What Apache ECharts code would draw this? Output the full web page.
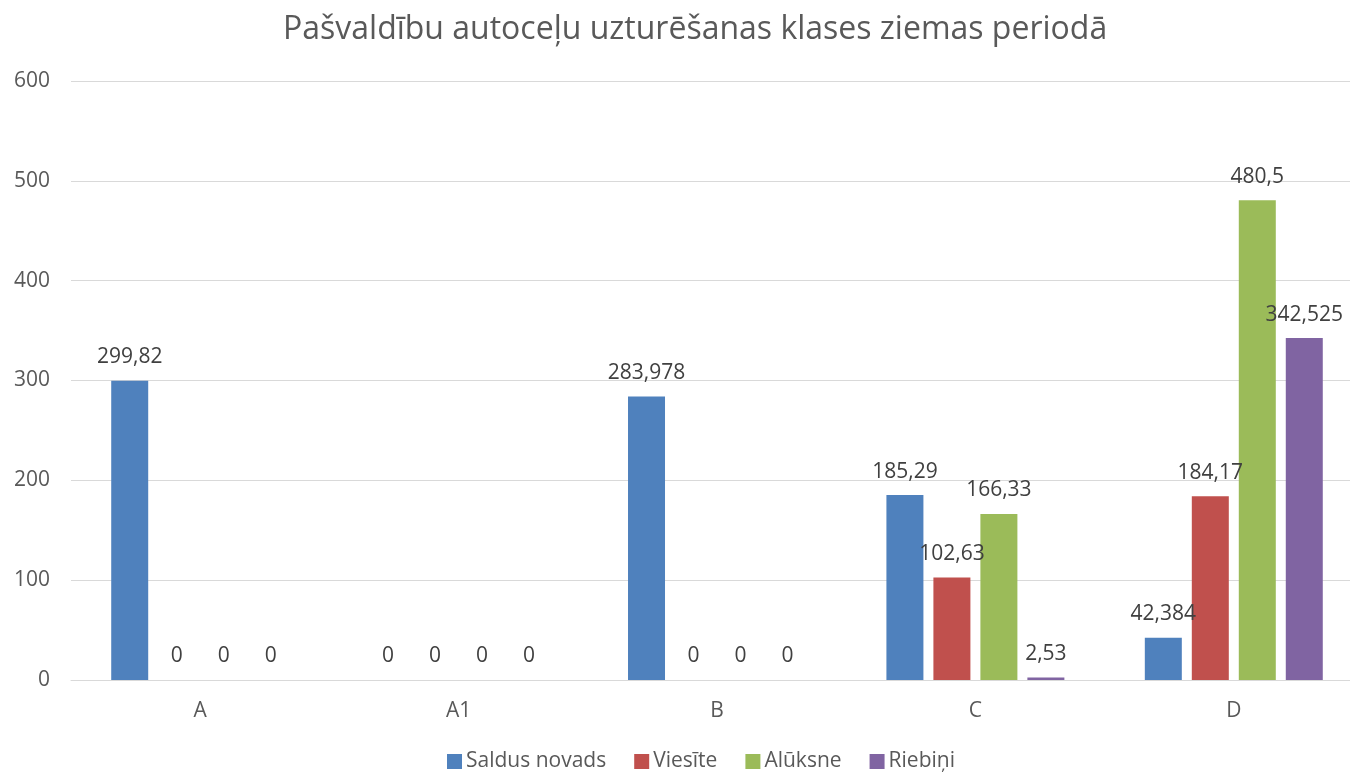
<!DOCTYPE html>
<html><head><meta charset="utf-8">
<script src="https://cdn.jsdelivr.net/npm/echarts@6/dist/echarts.min.js"></script>
<style>html,body{margin:0;padding:0;background:#fff;overflow:hidden;width:1350px;height:776px}#c{width:1363px;height:776px}</style>
</head><body><div id="c"></div>
<script>
const title = 'Pašvaldību autoceļu uzturēšanas klases ziemas periodā';
const categories = ['A', 'A1', 'B', 'C', 'D'];
const seriesNames = ['Saldus novads', 'Viesīte', 'Alūksne', 'Riebiņi'];
const saldus = [299.82, 0, 283.978, 185.29, 42.384];
const viesite = [0, 0, 0, 102.63, 184.17];
const aluksne = [0, 0, 0, 166.33, 480.5];
const riebini = [0, 0, 0, 2.53, 342.525];
const colors = ['#4F81BD', '#C0504D', '#9BBB59', '#8064A2'];
const yTicks = [0, 100, 200, 300, 400, 500, 600];

const font = '"Open Sans", "Noto Sans", sans-serif';
const chart = echarts.init(document.getElementById('c'));
const data = [saldus, viesite, aluksne, riebini];
chart.setOption({
  animation: false,
  title: { text: title, left: 278, top: 9,
    textStyle: { fontFamily: font, fontSize: 32, fontWeight: 'normal', color: '#595959' } },
  grid: { left: 71, top: 81, bottom: 96, right: 0, containLabel: false },
  legend: { top: 746, left: 442, itemWidth: 15, itemHeight: 15, itemGap: 28, icon: 'rect',
    textStyle: { fontFamily: font, fontSize: 21, color: '#595959', padding: [0, 0, 0, -1] }, data: seriesNames },
  xAxis: { type: 'category', data: categories,
    axisLine: { lineStyle: { color: '#d9d9d9', width: 1 } }, axisTick: { show: false },
    axisLabel: { fontFamily: font, fontSize: 21, color: '#595959', margin: 21 } },
  yAxis: { type: 'value', min: yTicks[0], max: yTicks[yTicks.length - 1], interval: 100,
    axisLine: { show: false }, axisTick: { show: false },
    splitLine: { lineStyle: { color: '#d9d9d9', width: 1 } },
    axisLabel: { fontFamily: font, fontSize: 21, color: '#595959', margin: 21 } },
  series: seriesNames.map((n, i) => ({
    name: n, type: 'bar', data: data[i], barWidth: 37, barGap: '27%',
    itemStyle: { color: colors[i] },
    label: { show: true, position: 'top', distance: 13, fontFamily: font, fontSize: 21, color: '#404040',
      formatter: p => String(p.value).replace('.', ',') }
  }))
});
</script></body></html>
